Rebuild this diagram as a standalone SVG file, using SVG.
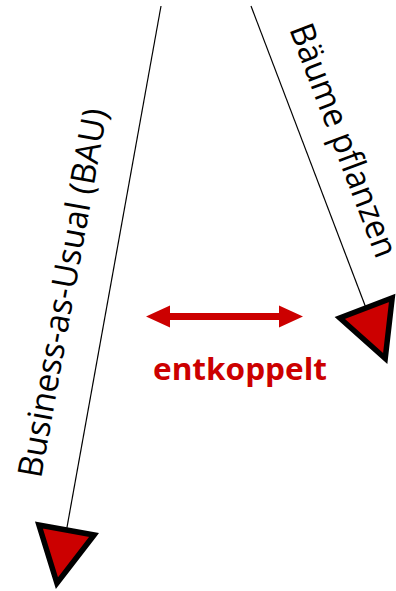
<svg xmlns="http://www.w3.org/2000/svg" width="396" height="591" viewBox="0 0 396 591">
  <style>
    .lbl { font-family: "Open Sans", "Noto Sans", sans-serif; font-size: 34px; fill: #000; }
    .red { font-family: "Open Sans", "Noto Sans", sans-serif; font-size: 30px; font-weight: bold; fill: #CC0000; }
    .conn { stroke: #000; stroke-width: 1.2; fill: none; }
    .head { fill: #CC0000; stroke: #000; stroke-width: 5.5; stroke-linejoin: miter; }
  </style>
  <defs>
    <marker id="tri" markerUnits="userSpaceOnUse" viewBox="-10 -40 80 80" markerWidth="80" markerHeight="80" refX="0" refY="0" orient="auto" overflow="visible">
      <path class="head" d="M0,-28 L54,0 L0,28 Z"/>
    </marker>
  </defs>
  <rect width="396" height="591" fill="#fff"/>
  <g id="connectors">
    <line class="conn" x1="161" y1="6" x2="66.5" y2="530" marker-end="url(#tri)"/>
    <line class="conn" x1="251" y1="6" x2="366" y2="308" marker-end="url(#tri)"/>
  </g>
  <g id="bau">
    <text class="lbl" transform="translate(41,479) rotate(-79.8)" textLength="374" lengthAdjust="spacingAndGlyphs">Business-as-Usual (BAU)</text>
  </g>
  <g id="baeume">
    <text class="lbl" transform="translate(289,29) rotate(69.2)" textLength="247" lengthAdjust="spacingAndGlyphs">Bäume pflanzen</text>
  </g>
  <g id="entkoppelt">
    <path fill="#CC0000" d="M146,316.5 L170,305.5 L170,313 L279,313 L279,305.5 L303,316.5 L279,327.5 L279,320 L170,320 L170,327.5 Z"/>
    <text class="red" x="153" y="380" textLength="174" lengthAdjust="spacingAndGlyphs">entkoppelt</text>
  </g>
</svg>
